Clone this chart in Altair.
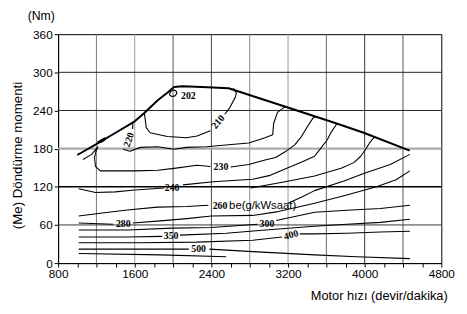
import altair as alt
import pandas as pd

# ---------------- data (rpm, Nm) ----------------
fl_rpm = [1000, 1200, 1400, 1600, 1700, 1840, 1940, 2010, 2100, 2300, 2580, 3190, 3700, 3990, 4470]
fl_nm = [170, 187, 205, 223, 236, 256, 268, 277, 278, 277, 275, 245, 220, 205, 177]

c202_rpm = [1960, 1975, 2000, 2030, 2040, 2020, 1985, 1960]
c202_nm = [265, 270, 272, 271, 267, 263, 262, 265]

c210a_rpm = [1700, 1710, 1720, 1760, 1940, 2140, 2250, 2390]
c210a_nm = [236, 225, 213, 205, 199, 197, 200, 208]
c210b_rpm = [2540, 2590, 2650, 2660, 2630]
c210b_nm = [234, 244, 261, 267, 275]

c220a_rpm = [1580, 1578]
c220a_nm = [221, 211]
c220b_rpm = [1477, 1550, 1660, 1840, 2010, 2140, 2350, 2580, 2790, 2960, 3040, 3050, 3090, 3170]
c220b_nm = [179, 176, 182, 183, 179, 182, 183, 186, 189, 197, 202, 220, 237, 246]

c230a_rpm = [1060, 1150, 1215, 1195, 1180, 1190, 1240, 1430, 1600, 1840, 2010, 2250, 2390]
c230a_nm = [163, 171, 183, 176, 166, 152, 145, 145, 145, 146, 149, 154, 152]
c230b_rpm = [2600, 2790, 2960, 3070, 3170, 3270, 3340, 3400, 3460, 3490]
c230b_nm = [151, 155, 162, 166, 175, 186, 199, 214, 228, 230]
c230c_rpm = [1210, 1250, 1290, 1285, 1250, 1210]
c230c_nm = [190, 194, 197, 193, 190, 190]

c240a_rpm = [1015, 1190, 1395, 1600, 1908]
c240a_nm = [117, 111, 112, 115, 118]
c240b_rpm = [2103, 2420, 2831, 3015, 3169, 3344, 3477, 3549, 3610, 3651, 3713]
c240b_nm = [123, 128, 132, 138, 148, 159, 168, 182, 194, 206, 220]

c250_rpm = [2810, 3169, 3477, 3754, 3887, 3959, 4010, 4051, 4100]
c250_nm = [118, 128, 137, 149, 158, 168, 179, 189, 198]

c260a_rpm = [1015, 1220, 1497, 1836, 2144, 2369]
c260a_nm = [74, 78, 83, 88, 89, 91]
c260b_rpm = [3200, 3344, 3477, 3784, 3990, 4267, 4472]
c260b_nm = [94, 104, 114, 129, 141, 155, 171]

c280a_rpm = [1015, 1374]
c280a_nm = [63, 61]
c280b_rpm = [1580, 1836, 2144, 2400, 2831, 3097, 3272, 3477, 3784, 4123, 4328, 4472]
c280b_nm = [63, 66, 70, 74, 75, 81, 87, 94, 106, 120, 131, 145]

c300a_rpm = [1015, 1528, 1990, 2400, 2882]
c300a_nm = [52, 52, 55, 56, 61]
c300b_rpm = [3077, 3477, 3815, 4164, 4472]
c300b_nm = [67, 80, 83, 86, 91]

c350a_rpm = [1015, 1528, 1887]
c350a_nm = [41, 41, 42]
c350b_rpm = [2072, 2554, 2964, 3477, 3815, 4164, 4472]
c350b_nm = [44, 47, 52, 58, 61, 64, 69]

c400a_rpm = [1015, 1631, 2246, 2831, 3138]
c400a_nm = [32, 32, 33, 36, 41]
c400b_rpm = [3323, 3477, 3815, 4164, 4472]
c400b_nm = [46, 46, 47, 49, 50]

c500a_rpm = [1015, 2164]
c500a_nm = [22, 22]
c500b_rpm = [2380, 2831, 3477, 3918, 4472]
c500b_nm = [22, 18, 13, 10, 7]

cx_rpm = [1015, 1867, 2554]
cx_nm = [15, 13, 10]

lab_text = ["202", "210", "220", "230", "240", "260", "280", "300", "350", "400", "500"]
lab_rpm = [2160, 2470, 1540, 2500, 1990, 2490, 1480, 2980, 1980, 3231, 2267]
lab_nm = [263, 222, 194, 151, 118, 89, 61, 62, 42, 44, 22]
lab_angle = [0, 310, 290, 0, 0, 0, 0, 0, 0, 345, 0]

unit_text = ["be(g/kWsaat)"]
unit_rpm = [2585]
unit_nm = [89]

vgrid = [1200, 1600, 2000, 2400, 2800, 3200, 3600, 4000, 4400]
vgrid_color = ["#777", "#999", "#555", "#444", "#888", "#999", "#666", "#333", "#555"]
hgrid = [60, 120, 180, 240, 300]
hgrid_color = ["#333", "#000", "#aaa", "#222", "#222"]
hgrid_width = [1, 1.6, 2.5, 1, 1]

x_ticks = list(range(800, 4801, 200))
y_ticks = list(range(0, 361, 60))

# ---------------- tables ----------------
segments = {
    "FL": (fl_rpm, fl_nm, 2.0),
    "c202": (c202_rpm, c202_nm, 1.1),
    "c210a": (c210a_rpm, c210a_nm, 1.1),
    "c210b": (c210b_rpm, c210b_nm, 1.1),
    "c220a": (c220a_rpm, c220a_nm, 1.1),
    "c220b": (c220b_rpm, c220b_nm, 1.1),
    "c230a": (c230a_rpm, c230a_nm, 1.1),
    "c230b": (c230b_rpm, c230b_nm, 1.1),
    "c230c": (c230c_rpm, c230c_nm, 1.1),
    "c240a": (c240a_rpm, c240a_nm, 1.1),
    "c240b": (c240b_rpm, c240b_nm, 1.1),
    "c250": (c250_rpm, c250_nm, 1.1),
    "c260a": (c260a_rpm, c260a_nm, 1.1),
    "c260b": (c260b_rpm, c260b_nm, 1.1),
    "c280a": (c280a_rpm, c280a_nm, 1.1),
    "c280b": (c280b_rpm, c280b_nm, 1.1),
    "c300a": (c300a_rpm, c300a_nm, 1.1),
    "c300b": (c300b_rpm, c300b_nm, 1.1),
    "c350a": (c350a_rpm, c350a_nm, 1.1),
    "c350b": (c350b_rpm, c350b_nm, 1.1),
    "c400a": (c400a_rpm, c400a_nm, 1.1),
    "c400b": (c400b_rpm, c400b_nm, 1.1),
    "c500a": (c500a_rpm, c500a_nm, 1.1),
    "c500b": (c500b_rpm, c500b_nm, 1.1),
    "cx": (cx_rpm, cx_nm, 1.1),
}
rows = []
for name, (rs, ns, w) in segments.items():
    for i, (r, n) in enumerate(zip(rs, ns)):
        rows.append({"seg": name, "i": i, "rpm": r, "nm": n, "w": w})
df_lines = pd.DataFrame(rows)

df_labels = pd.DataFrame({"t": lab_text, "rpm": lab_rpm, "nm": lab_nm, "a": lab_angle})
df_unit = pd.DataFrame({"t": unit_text, "rpm": unit_rpm, "nm": unit_nm})
df_v = pd.DataFrame({"rpm": vgrid, "c": vgrid_color})
df_h = pd.DataFrame({"nm": hgrid, "c": hgrid_color, "w": hgrid_width})

FONT = "Liberation Sans"
xs = alt.Scale(domain=[800, 4800], nice=False, zero=False)
ys = alt.Scale(domain=[0, 360], nice=False)

x_axis = alt.Axis(
    values=x_ticks, format="d",
    labelExpr="datum.value % 800 == 0 ? datum.label : ''",
    grid=False, tickSize=4, tickColor="black", domainColor="black",
    labelFont=FONT, labelFontSize=12, labelColor="black", labelPadding=2,
    labelFlush=False, labelOverlap=False,
    title="Motor hızı (devir/dakika)", titleFont=FONT, titleFontSize=13,
    titleFontWeight="normal", titleColor="black",
    titleX=396, titleY=33, titleAlign="right", titleBaseline="middle",
)
y_axis = alt.Axis(
    values=y_ticks, format="d", grid=False, tickSize=4, tickColor="black",
    domainColor="black", labelFont=FONT, labelFontSize=12, labelColor="black",
    labelPadding=2, labelFlush=False,
    title="(Me) Döndürme momenti", titleFont=FONT, titleFontSize=13.5,
    titleFontWeight="normal", titleColor="black",
    titleX=-41, titleY=123, titleAngle=270, titleAlign="center", titleBaseline="middle",
)

X = alt.X("rpm:Q", scale=xs, axis=x_axis)
Y = alt.Y("nm:Q", scale=ys, axis=y_axis)

vgrid_layer = alt.Chart(df_v).mark_rule(strokeWidth=1).encode(
    x=X, color=alt.Color("c:N", scale=None))
hgrid_layer = alt.Chart(df_h).mark_rule().encode(
    y=Y, color=alt.Color("c:N", scale=None),
    strokeWidth=alt.StrokeWidth("w:Q", scale=None))

lines = alt.Chart(df_lines).mark_line(color="black", strokeJoin="round").encode(
    x=X, y=Y, detail="seg:N", order="i:Q",
    strokeWidth=alt.StrokeWidth("w:Q", scale=None))

labels = alt.Chart(df_labels).mark_text(
    font="Liberation Serif", fontWeight="bold", fontSize=10, color="black",
    align="center", baseline="middle").encode(
    x=X, y=Y, text="t:N", angle=alt.Angle("a:Q", scale=None))

unit = alt.Chart(df_unit).mark_text(
    font=FONT, fontSize=11.5, color="black", align="left", baseline="middle").encode(
    x=X, y=Y, text="t:N")

chart = alt.layer(vgrid_layer, hgrid_layer, lines, labels, unit).properties(
    width=390, height=233,
    title=alt.TitleParams("(Nm)", anchor="start", frame="group", dx=-31,
                          fontSize=12.5, fontWeight="normal", font=FONT,
                          color="black", offset=6),
    padding={"left": 51, "top": 24, "right": 18, "bottom": 40},
    autosize=alt.AutoSizeParams(type="none"),
).configure_view(stroke="black", strokeWidth=1)

chart.save("out.html", embed_options={"renderer": "svg", "actions": False})
